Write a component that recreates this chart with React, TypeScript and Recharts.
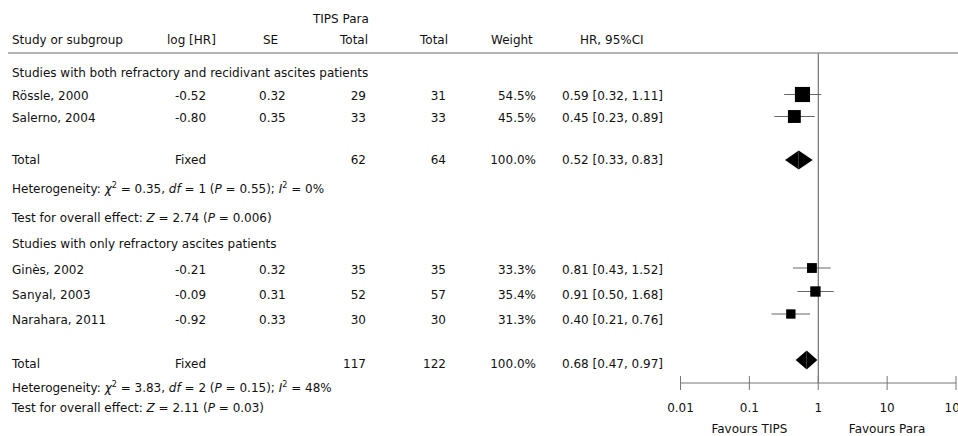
import React from "react";
import { ScatterChart, Scatter, XAxis, YAxis, ReferenceLine, ReferenceArea } from "recharts";

// individual studies
const studies = ["Rössle, 2000", "Salerno, 2004", "Ginès, 2002", "Sanyal, 2003", "Narahara, 2011"];
const logHR = ["-0.52", "-0.80", "-0.21", "-0.09", "-0.92"];
const se = ["0.32", "0.35", "0.32", "0.31", "0.33"];
const tipsTotal = [29, 33, 35, 52, 30];
const paraTotal = [31, 33, 35, 57, 30];
const weight = [54.5, 45.5, 33.3, 35.4, 31.3];
const hr = [0.59, 0.45, 0.81, 0.91, 0.4];
const ciLow = [0.32, 0.23, 0.43, 0.5, 0.21];
const ciHigh = [1.11, 0.89, 1.52, 1.68, 0.76];

// subgroups and pooled results
const groupTitles = [
  "Studies with both refractory and recidivant ascites patients",
  "Studies with only refractory ascites patients",
];
const groupTips = [62, 117];
const groupPara = [64, 122];
const pooledHR = [0.52, 0.68];
const pooledLow = [0.33, 0.47];
const pooledHigh = [0.83, 0.97];
const chi2 = ["0.35", "3.83"];
const df = ["1", "2"];
const hetP = ["0.55", "0.15"];
const i2 = ["0%", "48%"];
const zVal = ["2.74", "2.11"];
const zP = ["0.006", "0.03"];

const axisTicks = [0.01, 0.1, 1, 10, 100];
const favours = ["Favours TIPS", "Favours Para"];

// row layout (page y)
const STUDY_BASE = [100, 122, 274, 299, 324];
const STUDY_MARK_Y = [94.5, 116.5, 268, 291.5, 314];
const TITLE_BASE = [77, 248];
const TOTAL_BASE = [164, 368];
const TOTAL_MARK_Y = [160, 360];
const HET_BASE = [193, 392];
const TEST_BASE = [222, 412];

const W = 958;
const H = 436;
const FONT = "DejaVu Sans";
const INK = "#111";

const fmt = (v: number) => v.toFixed(2);
const hrText = (h: number, lo: number, hi: number) => `${fmt(h)} [${fmt(lo)}, ${fmt(hi)}]`;

const studyPoints = studies.map((s, i) => ({ name: s, hr: hr[i], y: STUDY_MARK_Y[i], weight: weight[i] }));

// box size follows the study weight
const Square = (p: any) => {
  const side = 1.5 + p.payload.weight * 0.25;
  return <rect x={p.cx - side / 2} y={p.cy - side / 2} width={side} height={side} fill="#000" />;
};

const Tick = (p: any) => {
  const idx = axisTicks.indexOf(p.payload.value);
  const fav = idx === 1 ? favours[0] : idx === 3 ? favours[1] : null;
  return (
    <g>
      <line x1={p.x} x2={p.x} y1={p.y - 7} y2={p.y + 7} stroke="#777" />
      <text x={p.x} y={p.y + 29} textAnchor="middle" fontFamily={FONT} fontSize={12} fill={INK}>
        {String(p.payload.value)}
      </text>
      {fav && (
        <text x={p.x} y={p.y + 50} textAnchor="middle" fontFamily={FONT} fontSize={12} fill={INK}>
          {fav}
        </text>
      )}
    </g>
  );
};

const leftHalf = (p: any) => (
  <polygon points={`${p.x},${p.y + p.height / 2} ${p.x + p.width},${p.y} ${p.x + p.width},${p.y + p.height}`} fill="#000" />
);
const rightHalf = (p: any) => (
  <polygon points={`${p.x},${p.y} ${p.x + p.width},${p.y + p.height / 2} ${p.x},${p.y + p.height}`} fill="#000" />
);

function Table() {
  const t = { fontFamily: FONT, fontSize: 12, fill: INK };
  return (
    <svg width={W} height={H} style={{ position: "absolute", left: 0, top: 0 }}>
      <text x={313} y={23} {...t}>TIPS Para</text>
      <text x={12} y={44} {...t}>Study or subgroup</text>
      <text x={167} y={44} {...t}>log [HR]</text>
      <text x={263} y={44} {...t}>SE</text>
      <text x={340} y={44} {...t}>Total</text>
      <text x={420} y={44} {...t}>Total</text>
      <text x={491} y={44} {...t}>Weight</text>
      <text x={580} y={44} {...t}>HR, 95%CI</text>
      <line x1={8} x2={W} y1={53} y2={53} stroke="#999" strokeWidth={1.5} />

      {studies.map((s, i) => (
        <g key={s}>
          <text x={12} y={STUDY_BASE[i]} {...t}>{s}</text>
          <text x={175} y={STUDY_BASE[i]} {...t}>{logHR[i]}</text>
          <text x={259} y={STUDY_BASE[i]} {...t}>{se[i]}</text>
          <text x={366} y={STUDY_BASE[i]} textAnchor="end" {...t}>{tipsTotal[i]}</text>
          <text x={446} y={STUDY_BASE[i]} textAnchor="end" {...t}>{paraTotal[i]}</text>
          <text x={536} y={STUDY_BASE[i]} textAnchor="end" {...t}>{weight[i].toFixed(1)}%</text>
          <text x={562} y={STUDY_BASE[i]} {...t}>{hrText(hr[i], ciLow[i], ciHigh[i])}</text>
        </g>
      ))}

      {groupTitles.map((g, k) => (
        <g key={g}>
          <text x={12} y={TITLE_BASE[k]} {...t}>{g}</text>
          <text x={12} y={TOTAL_BASE[k]} {...t}>Total</text>
          <text x={175} y={TOTAL_BASE[k]} {...t}>Fixed</text>
          <text x={366} y={TOTAL_BASE[k]} textAnchor="end" {...t}>{groupTips[k]}</text>
          <text x={446} y={TOTAL_BASE[k]} textAnchor="end" {...t}>{groupPara[k]}</text>
          <text x={536} y={TOTAL_BASE[k]} textAnchor="end" {...t}>100.0%</text>
          <text x={562} y={TOTAL_BASE[k]} {...t}>{hrText(pooledHR[k], pooledLow[k], pooledHigh[k])}</text>
          <text x={12} y={HET_BASE[k]} {...t}>
            {"Heterogeneity: "}
            <tspan fontStyle="italic">χ</tspan>
            <tspan dy={-5} fontSize={8}>2</tspan>
            <tspan dy={5}>{` = ${chi2[k]}, `}</tspan>
            <tspan fontStyle="italic">df</tspan>
            {` = ${df[k]} (`}
            <tspan fontStyle="italic">P</tspan>
            {` = ${hetP[k]}); `}
            <tspan fontStyle="italic">I</tspan>
            <tspan dy={-5} fontSize={8}>2</tspan>
            <tspan dy={5}>{` = ${i2[k]}`}</tspan>
          </text>
          <text x={12} y={TEST_BASE[k]} {...t}>
            {"Test for overall effect: "}
            <tspan fontStyle="italic">Z</tspan>
            {` = ${zVal[k]} (`}
            <tspan fontStyle="italic">P</tspan>
            {` = ${zP[k]})`}
          </text>
        </g>
      ))}
    </svg>
  );
}

export default function App() {
  return (
    <div style={{ position: "absolute", left: 0, top: 0, width: W, height: H, background: "#fff", overflow: "hidden" }}>
      <ScatterChart width={W} height={H} margin={{ top: 53, right: 2, bottom: 0, left: 680.5 }} style={{ position: "absolute", left: 0, top: 0 }}>
        <XAxis
          dataKey="hr"
          type="number"
          scale="log"
          domain={[0.01, 100]}
          ticks={axisTicks}
          interval={0}
          allowDataOverflow
          height={53}
          tickSize={0}
          tickMargin={0}
          tickLine={false}
          axisLine={{ stroke: "#777" }}
          tick={<Tick />}
        />
        <YAxis dataKey="y" type="number" domain={[53, 383]} reversed hide />
        <ReferenceLine x={1} stroke="#555" />
        {studies.map((s, i) => (
          <ReferenceLine
            key={s}
            segment={[
              { x: ciLow[i], y: STUDY_MARK_Y[i] },
              { x: ciHigh[i], y: STUDY_MARK_Y[i] },
            ]}
            stroke="#666"
          />
        ))}
        {pooledHR.map((h, k) => (
          <ReferenceArea key={"l" + k} x1={pooledLow[k]} x2={h} y1={TOTAL_MARK_Y[k] - 9.5} y2={TOTAL_MARK_Y[k] + 9.5} shape={leftHalf} />
        ))}
        {pooledHR.map((h, k) => (
          <ReferenceArea key={"r" + k} x1={h} x2={pooledHigh[k]} y1={TOTAL_MARK_Y[k] - 9.5} y2={TOTAL_MARK_Y[k] + 9.5} shape={rightHalf} />
        ))}
        <Scatter data={studyPoints} dataKey="y" shape={<Square />} isAnimationActive={false} />
      </ScatterChart>
      <Table />
    </div>
  );
}
